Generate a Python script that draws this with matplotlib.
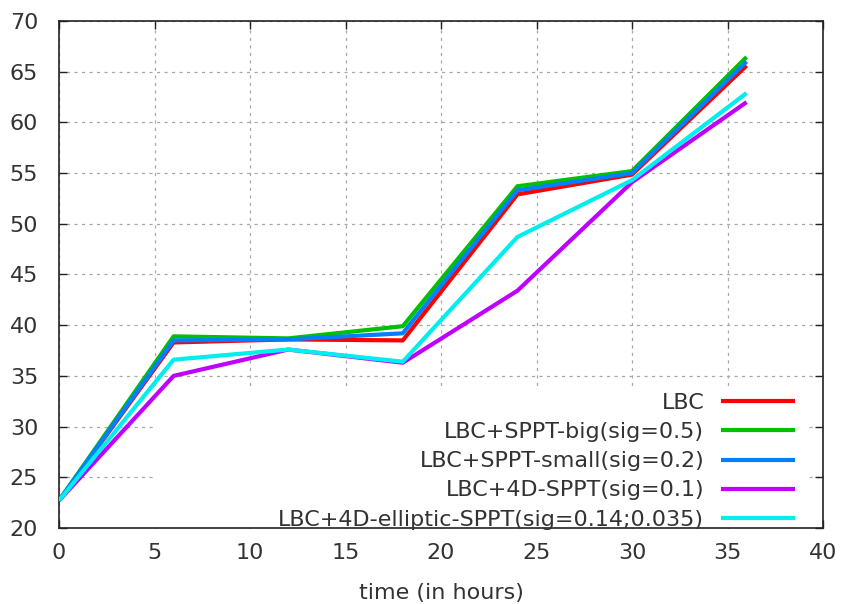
import matplotlib
matplotlib.use("Agg")
import matplotlib.pyplot as plt
from matplotlib.patches import Rectangle
from matplotlib.ticker import MultipleLocator

# forecast lead time (hours) and score for each run
hours = [0, 6, 12, 18, 24, 30, 36]
lbc = [22.7, 38.3, 38.6, 38.5, 52.9, 54.85, 65.6]
sppt_big = [22.7, 38.9, 38.7, 39.9, 53.7, 55.2, 66.45]
sppt_small = [22.7, 38.5, 38.6, 39.2, 53.3, 55.0, 66.0]
sppt_4d = [22.7, 35.0, 37.6, 36.3, 43.4, 54.1, 62.0]
sppt_4d_ell = [22.7, 36.6, 37.6, 36.4, 48.7, 54.3, 62.9]

labels = [
    "LBC",
    "LBC+SPPT-big(sig=0.5)",
    "LBC+SPPT-small(sig=0.2)",
    "LBC+4D-SPPT(sig=0.1)",
    "LBC+4D-elliptic-SPPT(sig=0.14;0.035)",
]
colors = ["#ff0000", "#00c000", "#0080ff", "#c000ff", "#00eeee"]

FS = 16
TXT = "#333333"

plt.rcParams["font.family"] = "DejaVu Sans"
fig = plt.figure(figsize=(8.41, 6.04), dpi=100)
ax = fig.add_axes([59 / 841, 76 / 604, 764 / 841, 507 / 604])

for ys, lab, col in zip([lbc, sppt_big, sppt_small, sppt_4d, sppt_4d_ell], labels, colors):
    ax.plot(hours, ys, color=col, lw=3, label=lab, solid_capstyle="butt", zorder=3)

ax.set_xlim(0, 40)
ax.set_ylim(20, 70)
ax.xaxis.set_major_locator(MultipleLocator(5))
ax.yaxis.set_major_locator(MultipleLocator(5))
ax.grid(True, color="#a8a8a8", linestyle=(0, (2.5, 3.5)), lw=0.9)
ax.set_axisbelow(True)
ax.tick_params(direction="in", length=6, width=1, top=True, right=True,
               labelsize=FS, colors="#222222", labelcolor=TXT)
ax.tick_params(axis="y", pad=15)
ax.tick_params(axis="x", pad=11)
for s in ax.spines.values():
    s.set_linewidth(1.2)
    s.set_color("#222222")
ax.set_xlabel("time (in hours)", fontsize=FS, color=TXT, labelpad=14.5)

# opaque key box hides the grid behind the legend
ax.add_patch(Rectangle((0.123, 0.0), 0.853, 0.278, transform=ax.transAxes,
                       facecolor="white", edgecolor="none", zorder=1))

leg = ax.legend(loc="lower right", bbox_to_anchor=(0.963, -0.003), markerfirst=False,
                frameon=False, fontsize=FS, handlelength=3.3, handletextpad=0.77,
                labelspacing=0.41, borderpad=0.0, borderaxespad=0.0)
for t in leg.get_texts():
    t.set_color(TXT)

fig.savefig("out.png", dpi=100)
